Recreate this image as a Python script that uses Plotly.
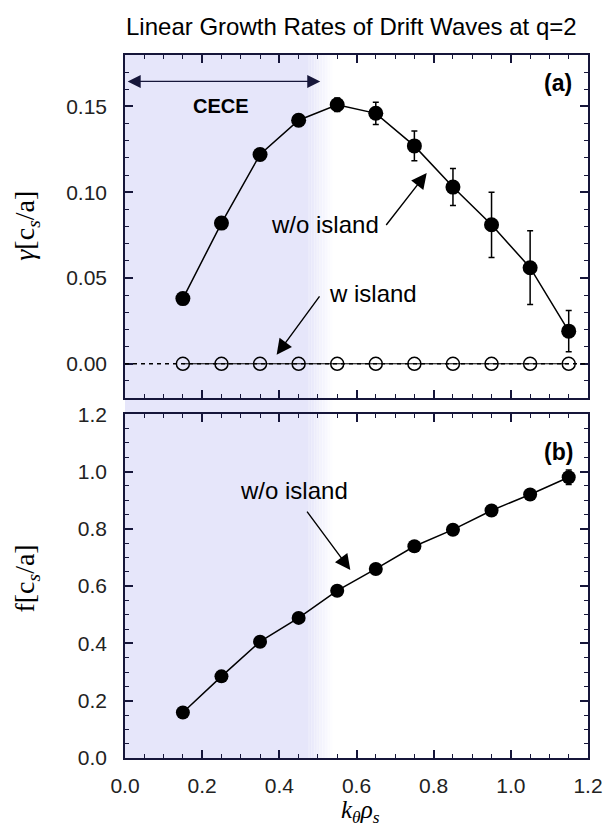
import plotly.graph_objects as go

# ---------------- data ----------------
k_theta_rho = [0.15, 0.25, 0.35, 0.45, 0.55, 0.65, 0.75, 0.85, 0.95, 1.05, 1.15]
gamma_no_island = [0.038, 0.082, 0.122, 0.142, 0.151, 0.146, 0.127, 0.103, 0.081, 0.056, 0.019]
gamma_no_island_err = [0.001, 0.001, 0.002, 0.002, 0.004, 0.0065, 0.0087, 0.0108, 0.019, 0.0215, 0.012]
gamma_island = [0, 0, 0, 0, 0, 0, 0, 0, 0, 0, 0]
freq_no_island = [0.159, 0.285, 0.406, 0.489, 0.584, 0.660, 0.739, 0.797, 0.864, 0.920, 0.980]
freq_no_island_err = [0.004, 0.004, 0.004, 0.004, 0.004, 0.004, 0.004, 0.004, 0.004, 0.004, 0.025]

x_ticks = [0.0, 0.2, 0.4, 0.6, 0.8, 1.0, 1.2]
gamma_ticks = [0.00, 0.05, 0.10, 0.15]
freq_ticks = [0.0, 0.2, 0.4, 0.6, 0.8, 1.0, 1.2]

# ---------------- style ----------------
AX = "#16163a"
SANS = "Liberation Sans, Arial, sans-serif"
SERIF = "Liberation Serif, Times New Roman, serif"
shade_rgb = (230, 230, 250)

fig = go.Figure()

fig.add_trace(go.Scatter(
    x=k_theta_rho, y=gamma_island, mode="lines+markers",
    line=dict(color="black", width=1),
    marker=dict(symbol="circle-open", size=13, color="black", line=dict(width=1.5)),
    xaxis="x", yaxis="y", showlegend=False))

fig.add_trace(go.Scatter(
    x=k_theta_rho, y=gamma_no_island, mode="lines+markers",
    line=dict(color="black", width=1.5),
    marker=dict(symbol="circle", size=15, color="black"),
    error_y=dict(type="data", array=gamma_no_island_err, color="black", thickness=1.5, width=3),
    xaxis="x", yaxis="y", showlegend=False))

fig.add_trace(go.Scatter(
    x=k_theta_rho, y=freq_no_island, mode="lines+markers",
    line=dict(color="black", width=1.5),
    marker=dict(symbol="circle", size=14, color="black"),
    error_y=dict(type="data", array=freq_no_island_err, color="black", thickness=1.5, width=3),
    xaxis="x2", yaxis="y2", showlegend=False))

# ---------------- shading (CECE range) ----------------
shapes = []
x_solid, x_fade = 0.475, 0.54
shapes.append(dict(type="rect", xref="x", yref="paper", x0=0, x1=x_solid, y0=0, y1=1,
                   fillcolor="rgb(%d,%d,%d)" % shade_rgb, line=dict(width=0), layer="below"))
n = 16
for i in range(n):
    a = x_solid + (x_fade - x_solid) * i / n
    b = x_solid + (x_fade - x_solid) * (i + 1) / n
    t = (i + 0.5) / n
    c = tuple(int(round(s + (255 - s) * t)) for s in shade_rgb)
    shapes.append(dict(type="rect", xref="x", yref="paper", x0=a, x1=b, y0=0, y1=1,
                       fillcolor="rgb(%d,%d,%d)" % c, line=dict(width=0), layer="below"))
# dashed zero line in panel (a)
shapes.append(dict(type="line", xref="x domain", yref="y", x0=0, x1=1, y0=0, y1=0,
                   line=dict(color="black", width=1.5, dash="4px,4px"), layer="above"))

def axis_common():
    return dict(showline=True, linecolor=AX, linewidth=1.6, mirror="ticks",
                ticks="inside", ticklen=8, tickwidth=1.5, tickcolor=AX,
                showgrid=False, zeroline=False,
                tickfont=dict(family=SANS, size=21, color="#222"))

xa = axis_common()
xa.update(range=[0, 1.2], tickvals=x_ticks, showticklabels=False, anchor="y",
          minor=dict(ticks="inside", ticklen=4, tickwidth=1.2, tickcolor=AX, dtick=0.05, showgrid=False))
ya = axis_common()
ya.update(range=[-0.02, 0.18], tickvals=gamma_ticks, tickformat=".2f", domain=[0.512, 1], anchor="x",
          ticklabelstandoff=12,
          minor=dict(ticks="inside", ticklen=4, tickwidth=1.2, tickcolor=AX, dtick=0.01, showgrid=False))
xa2 = axis_common()
xa2.update(range=[0, 1.2], tickvals=x_ticks, tickformat=".1f", anchor="y2", ticklabelstandoff=8,
           minor=dict(ticks="inside", ticklen=4, tickwidth=1.2, tickcolor=AX, dtick=0.05, showgrid=False))
ya2 = axis_common()
ya2.update(range=[0, 1.2], tickvals=freq_ticks, tickformat=".1f", domain=[0, 0.489], anchor="x2",
           ticklabelstandoff=12,
           minor=dict(ticks="inside", ticklen=4, tickwidth=1.2, tickcolor=AX, dtick=0.05, showgrid=False))

arrow = dict(showarrow=True, arrowhead=2, arrowsize=2.2, arrowwidth=1.4, arrowcolor="black")
txt = dict(family=SANS, size=24, color="black")

annotations = [
    # title
    dict(xref="paper", yref="paper", x=0.49, y=1.041, text="Linear Growth Rates of Drift Waves at q=2",
         showarrow=False, font=dict(family=SANS, size=24, color="black"), xanchor="center", yanchor="middle"),
    # axis titles
    dict(xref="paper", yref="paper", x=0.508, y=-0.076, text="<i>k</i><sub><i>θ</i></sub><i>ρ</i><sub><i>s</i></sub>",
         showarrow=False, font=dict(family=SERIF, size=25, color="black"), xanchor="center", yanchor="middle"),
    dict(xref="paper", yref="paper", x=-0.212, y=0.757, text="<i>γ</i>[c<sub><i>s</i></sub>/a]", textangle=-90,
         showarrow=False, font=dict(family=SERIF, size=28, color="black"), xanchor="center", yanchor="middle"),
    dict(xref="paper", yref="paper", x=-0.212, y=0.255, text="f[c<sub><i>s</i></sub>/a]", textangle=-90,
         showarrow=False, font=dict(family=SERIF, size=28, color="black"), xanchor="center", yanchor="middle"),
    # panel labels
    dict(xref="x", yref="y", x=1.123, y=0.1637, text="<b>(a)</b>", showarrow=False,
         font=dict(family=SANS, size=23, color="black")),
    dict(xref="x2", yref="y2", x=1.124, y=1.068, text="<b>(b)</b>", showarrow=False,
         font=dict(family=SANS, size=23, color="black")),
    # CECE
    dict(xref="x", yref="y", x=0.248, y=0.15, text="<b>CECE</b>", showarrow=False,
         font=dict(family=SANS, size=20, color="black")),
    dict(xref="x", yref="y", axref="x", ayref="y", x=0.506, y=0.1646, ax=0.003, ay=0.1646, text="",
         showarrow=True, arrowhead=2, startarrowhead=2, arrowside="end+start", arrowsize=2.0,
         startarrowsize=2.0, arrowwidth=1.3, arrowcolor=AX),
    # panel (a) labels
    dict(xref="x", yref="y", x=0.518, y=0.081, text="w/o island", showarrow=False, font=txt),
    dict(xref="x", yref="y", axref="x", ayref="y", x=0.782, y=0.1112, ax=0.674, ay=0.080, text="", **arrow),
    dict(xref="x", yref="y", x=0.644, y=0.0412, text="w island", showarrow=False, font=txt),
    dict(xref="x", yref="y", axref="x", ayref="y", x=0.393, y=0.0052, ax=0.507, ay=0.0402, text="", **arrow),
    # panel (b) labels
    dict(xref="x2", yref="y2", x=0.439, y=0.935, text="w/o island", showarrow=False, font=txt),
    dict(xref="x2", yref="y2", axref="x2", ayref="y2", x=0.584, y=0.656, ax=0.469, ay=0.865, text="", **arrow),
]

# the page body adds an 8 px offset, so the figure is drawn 8 px smaller and shifted margins compensate
fig.update_layout(
    width=607, height=821,
    margin=dict(l=117, r=27, t=47, b=71),
    paper_bgcolor="white", plot_bgcolor="rgba(0,0,0,0)",
    xaxis=xa, yaxis=ya, xaxis2=xa2, yaxis2=ya2,
    shapes=shapes, annotations=annotations,
    showlegend=False,
)

fig.write_html("out.html")
